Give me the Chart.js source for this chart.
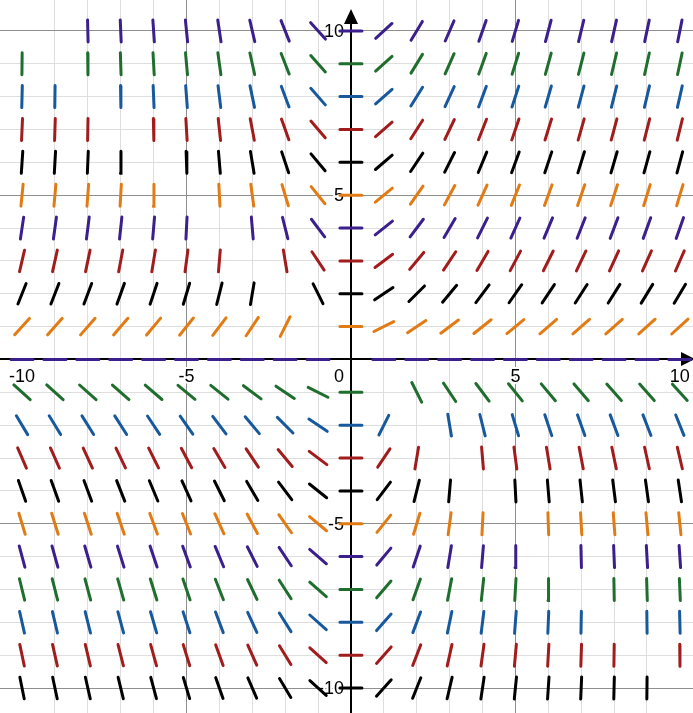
<!DOCTYPE html>
<html>
<head>
<meta charset="utf-8">
<script src="https://cdn.jsdelivr.net/npm/chart.js@4.4.0/dist/chart.umd.min.js"></script>
<style>
  html, body { margin: 0; padding: 0; background: #fff; }
  canvas { display: block; }
</style>
</head>
<body>
<canvas id="slopeChart" width="693" height="713"></canvas>
<script>
// grid points of the slope field
var xValues = [-10, -9, -8, -7, -6, -5, -4, -3, -2, -1, 0, 1, 2, 3, 4, 5, 6, 7, 8, 9, 10];
var yValues = [10, 9, 8, 7, 6, 5, 4, 3, 2, 1, 0, -1, -2, -3, -4, -5, -6, -7, -8, -9, -10];

// slope at each grid point, one row per y value (null = no mark in the picture)
var slopeY10  = [null, null, -40, -23.33, -15, -10, -6.67, -4.29, -2.5, -1.11, 0, 0.91, 1.67, 2.31, 2.86, 3.33, 3.75, 4.12, 4.44, 4.74, 5];
var slopeY9   = [90, null, -72, -31.5, -18, -11.25, -7.2, -4.5, -2.57, -1.13, 0, 0.9, 1.64, 2.25, 2.77, 3.21, 3.6, 3.94, 4.24, 4.5, 4.74];
var slopeY8   = [40, 72, null, -56, -24, -13.33, -8, -4.8, -2.67, -1.14, 0, 0.89, 1.6, 2.18, 2.67, 3.08, 3.43, 3.73, 4, 4.24, 4.44];
var slopeY7   = [23.33, 31.5, 56, null, -42, -17.5, -9.33, -5.25, -2.8, -1.17, 0, 0.88, 1.56, 2.1, 2.55, 2.92, 3.23, 3.5, 3.73, 3.94, 4.12];
var slopeY6   = [15, 18, 24, 42, null, -30, -12, -6, -3, -1.2, 0, 0.86, 1.5, 2, 2.4, 2.73, 3, 3.23, 3.43, 3.6, 3.75];
var slopeY5   = [10, 11.25, 13.33, 17.5, 30, null, -20, -7.5, -3.33, -1.25, 0, 0.83, 1.43, 1.88, 2.22, 2.5, 2.73, 2.92, 3.08, 3.21, 3.33];
var slopeY4   = [6.67, 7.2, 8, 9.33, 12, 20, null, -12, -4, -1.33, 0, 0.8, 1.33, 1.71, 2, 2.22, 2.4, 2.55, 2.67, 2.77, 2.86];
var slopeY3   = [4.29, 4.5, 4.8, 5.25, 6, 7.5, 12, null, -6, -1.5, 0, 0.75, 1.2, 1.5, 1.71, 1.88, 2, 2.1, 2.18, 2.25, 2.31];
var slopeY2   = [2.5, 2.57, 2.67, 2.8, 3, 3.33, 4, 6, null, -2, 0, 0.67, 1, 1.2, 1.33, 1.43, 1.5, 1.56, 1.6, 1.64, 1.67];
var slopeY1   = [1.11, 1.13, 1.14, 1.17, 1.2, 1.25, 1.33, 1.5, 2, null, 0, 0.5, 0.67, 0.75, 0.8, 0.83, 0.86, 0.88, 0.89, 0.9, 0.91];
var slopeY0   = [0, 0, 0, 0, 0, 0, 0, 0, 0, 0, null, 0, 0, 0, 0, 0, 0, 0, 0, 0, 0];
var slopeYm1  = [-0.91, -0.9, -0.89, -0.88, -0.86, -0.83, -0.8, -0.75, -0.67, -0.5, 0, null, -2, -1.5, -1.33, -1.25, -1.2, -1.17, -1.14, -1.13, -1.11];
var slopeYm2  = [-1.67, -1.64, -1.6, -1.56, -1.5, -1.43, -1.33, -1.2, -1, -0.67, 0, 2, null, -6, -4, -3.33, -3, -2.8, -2.67, -2.57, -2.5];
var slopeYm3  = [-2.31, -2.25, -2.18, -2.1, -2, -1.88, -1.71, -1.5, -1.2, -0.75, 0, 1.5, 6, null, -12, -7.5, -6, -5.25, -4.8, -4.5, -4.29];
var slopeYm4  = [-2.86, -2.77, -2.67, -2.55, -2.4, -2.22, -2, -1.71, -1.33, -0.8, 0, 1.33, 4, 12, null, -20, -12, -9.33, -8, -7.2, -6.67];
var slopeYm5  = [-3.33, -3.21, -3.08, -2.92, -2.73, -2.5, -2.22, -1.88, -1.43, -0.83, 0, 1.25, 3.33, 7.5, 20, null, -30, -17.5, -13.33, -11.25, -10];
var slopeYm6  = [-3.75, -3.6, -3.43, -3.23, -3, -2.73, -2.4, -2, -1.5, -0.86, 0, 1.2, 3, 6, 12, 30, null, -42, -24, -18, -15];
var slopeYm7  = [-4.12, -3.94, -3.73, -3.5, -3.23, -2.92, -2.55, -2.1, -1.56, -0.88, 0, 1.17, 2.8, 5.25, 9.33, 17.5, 42, null, -56, -31.5, -23.33];
var slopeYm8  = [-4.44, -4.24, -4, -3.73, -3.43, -3.08, -2.67, -2.18, -1.6, -0.89, 0, 1.14, 2.67, 4.8, 8, 13.33, 24, 56, null, -72, -40];
var slopeYm9  = [-4.74, -4.5, -4.24, -3.94, -3.6, -3.21, -2.77, -2.25, -1.64, -0.9, 0, 1.13, 2.57, 4.5, 7.2, 11.25, 18, 31.5, 72, null, -90];
var slopeYm10 = [-5, -4.74, -4.44, -4.12, -3.75, -3.33, -2.86, -2.31, -1.67, -0.91, 0, 1.11, 2.5, 4.29, 6.67, 10, 15, 23.33, 40, 90, null];

var rowSlopes = [slopeY10, slopeY9, slopeY8, slopeY7, slopeY6, slopeY5, slopeY4, slopeY3, slopeY2, slopeY1, slopeY0,
                 slopeYm1, slopeYm2, slopeYm3, slopeYm4, slopeYm5, slopeYm6, slopeYm7, slopeYm8, slopeYm9, slopeYm10];

// axis tick labels
var xTickLabels = [-10, -5, 5, 10];
var yTickLabels = [10, 5, -5, -10];

// styling
var PURPLE = '#3b1f8c', GREEN = '#1f6e2e', BLUE = '#17599c', RED = '#a11c1c', BLACK = '#000000', ORANGE = '#e27b14';
var rowColors = [PURPLE, GREEN, BLUE, RED, BLACK, ORANGE, PURPLE, RED, BLACK, ORANGE, PURPLE,
                 GREEN, BLUE, RED, BLACK, ORANGE, PURPLE, GREEN, BLUE, RED, BLACK];
var HALF_LEN = 0.335; // half the length of a slope mark, in axis units

function rowSegments(y, slopes) {
  var pts = [];
  for (var i = 0; i < xValues.length; i++) {
    var m = slopes[i];
    if (m === null) continue;
    var x = xValues[i];
    var dx = HALF_LEN / Math.sqrt(1 + m * m);
    pts.push({x: x - dx, y: y - m * dx});
    pts.push({x: x + dx, y: y + m * dx});
    pts.push({x: x, y: null}); // break the line
  }
  return pts;
}

var datasets = [];
for (var r = 0; r < yValues.length; r++) {
  datasets.push({
    label: 'y = ' + yValues[r],
    data: rowSegments(yValues[r], rowSlopes[r]),
    showLine: true,
    spanGaps: false,
    borderColor: rowColors[r],
    borderWidth: 3,
    borderCapStyle: 'round',
    pointRadius: 0,
    pointHoverRadius: 0
  });
}

function gridColor(ctx) {
  var v = ctx.tick.value;
  if (Math.abs(v - Math.round(v)) > 1e-6 || v === 0) return 'rgba(0,0,0,0)';
  return v % 5 === 0 ? '#8f8f8f' : '#dedede';
}

var axesPlugin = {
  id: 'centerAxes',
  beforeDatasetsDraw: function (chart) {
    var c = chart.ctx, xs = chart.scales.x, ys = chart.scales.y, area = chart.chartArea;
    var ox = Math.round(xs.getPixelForValue(0)), oy = Math.round(ys.getPixelForValue(0));
    c.save();
    c.strokeStyle = '#000';
    c.fillStyle = '#000';
    c.lineWidth = 2;
    c.beginPath();
    c.moveTo(area.left, oy); c.lineTo(area.right - 6, oy);
    c.moveTo(ox, area.bottom); c.lineTo(ox, area.top + 14);
    c.stroke();
    // arrow heads
    c.beginPath();
    c.moveTo(area.right + 2, oy); c.lineTo(area.right - 12, oy - 7); c.lineTo(area.right - 12, oy + 7); c.closePath();
    c.fill();
    c.beginPath();
    c.moveTo(ox, area.top + 9); c.lineTo(ox - 7, area.top + 24); c.lineTo(ox + 7, area.top + 24); c.closePath();
    c.fill();

    c.font = '18px "Liberation Sans", Arial, sans-serif';
    c.lineJoin = 'round';
    function label(text, x, y, align, baseline) {
      c.textAlign = align; c.textBaseline = baseline;
      c.strokeStyle = '#fff'; c.lineWidth = 4;
      c.strokeText(text, x, y);
      c.fillStyle = '#000';
      c.fillText(text, x, y);
    }
    xTickLabels.forEach(function (v) { label(String(v), xs.getPixelForValue(v), oy + 9, 'center', 'top'); });
    yTickLabels.forEach(function (v) { label(String(v), ox - 7, ys.getPixelForValue(v) + 1, 'right', 'middle'); });
    label('0', ox - 7, oy + 9, 'right', 'top');
    c.restore();
  }
};

new Chart(document.getElementById('slopeChart'), {
  type: 'scatter',
  data: { datasets: datasets },
  options: {
    responsive: false,
    animation: false,
    devicePixelRatio: 1,
    layout: { padding: 0, autoPadding: false },
    plugins: { legend: { display: false }, tooltip: { enabled: false } },
    events: [],
    scales: {
      x: {
        type: 'linear', min: -10.67, max: 10.4,
        ticks: { display: false, stepSize: 1, autoSkip: false },
        grid: { color: gridColor, lineWidth: 1, drawTicks: false },
        border: { display: false }
      },
      y: {
        type: 'linear', min: -10.76, max: 10.94,
        ticks: { display: false, stepSize: 1, autoSkip: false },
        grid: { color: gridColor, lineWidth: 1, drawTicks: false },
        border: { display: false }
      }
    }
  },
  plugins: [axesPlugin]
});
</script>
</body>
</html>
